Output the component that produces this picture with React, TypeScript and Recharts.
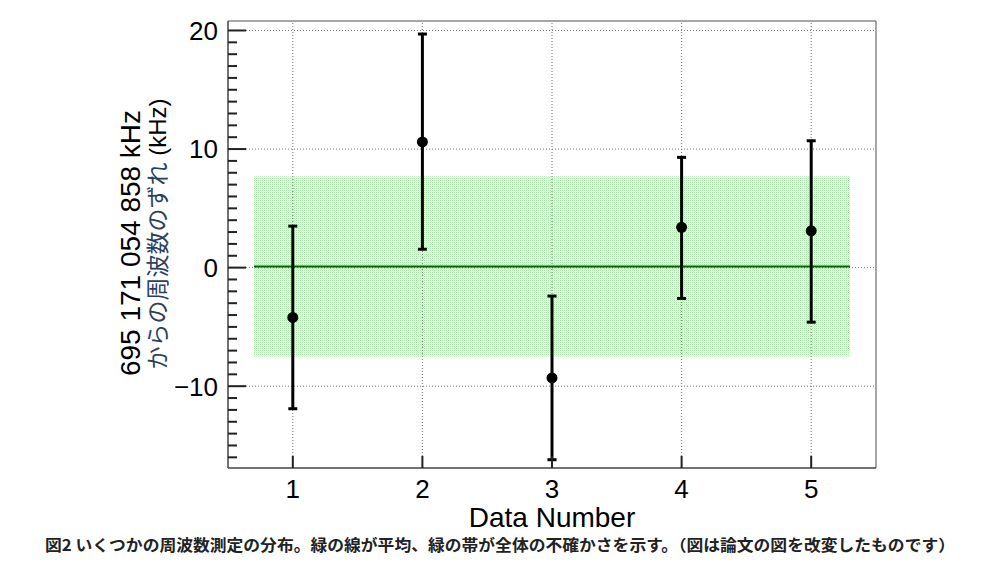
import React from "react";
import {
  ComposedChart,
  Scatter,
  ErrorBar,
  XAxis,
  YAxis,
  ReferenceArea,
  ReferenceLine,
} from "recharts";

const dataNumbers = [1, 2, 3, 4, 5];
const deviations = [-4.2, 10.6, -9.3, 3.4, 3.1];
const upperBounds = [3.5, 19.7, -2.4, 9.3, 10.7];
const lowerBounds = [-11.9, 1.55, -16.2, -2.6, -4.6];

const meanValue = 0.1;
const bandRange = [-7.5, 7.7];
const bandExtent = [0.7, 5.3];

const xTicks = [1, 2, 3, 4, 5];
const yMajorTicks = [-10, 0, 10, 20];
const yMinorTicks = Array.from({ length: 37 }, (_, i) => i - 16);

const X_DOMAIN = [0.5, 5.5];
const Y_DOMAIN = [-16.9, 20.8];

const FONT = "'Liberation Sans', Arial, Helvetica, sans-serif";
const CJK = "'Noto Sans CJK JP', 'Noto Sans', sans-serif";

const points = dataNumbers.map((n, i) => ({
  x: n,
  y: deviations[i],
  err: [deviations[i] - lowerBounds[i], upperBounds[i] - deviations[i]],
}));

// tick marks, placed through the axis scales like any other point
const yTickMarks = yMinorTicks.map((v) => ({ x: X_DOMAIN[0], y: v, major: v % 10 === 0 }));
const xTickMarks = xTicks.map((v) => ({ x: v, y: Y_DOMAIN[0] }));

const fmt = (v: number) => (v < 0 ? `\u2212${-v}` : `${v}`);

function YTick(props: any) {
  return (
    <text x={props.x} y={props.y} dy="0.36em" textAnchor="end" fontSize={26} fontFamily={FONT} fill="#000">
      {fmt(Number(props.payload.value))}
    </text>
  );
}

function XTick(props: any) {
  return (
    <text x={props.x} y={Number(props.y) + 28} textAnchor="middle" fontSize={26} fontFamily={FONT} fill="#000">
      {props.payload.value}
    </text>
  );
}

function YTitle() {
  return (
    <g>
      <text
        transform="translate(140, 243) rotate(-90)"
        textAnchor="middle"
        fontSize={28}
        fontFamily={FONT}
        fill="#000"
      >
        695 171 054 858 kHz
      </text>
      <text
        transform="translate(166, 234) rotate(-90)"
        textAnchor="middle"
        fontSize={24}
        fontFamily={FONT}
        fill="#000"
      >
        <tspan fontFamily={CJK} fontSize={23} fill="#2a4060">
          からの周波数のずれ
        </tspan>
        <tspan> (kHz)</tspan>
      </text>
    </g>
  );
}

function XTitle() {
  return (
    <g>
      <text x={552} y={527} textAnchor="middle" fontSize={28} fontFamily={FONT} fill="#000">
        Data Number
      </text>
      <text
        x={500}
        y={551}
        textAnchor="middle"
        fontSize={16}
        fontWeight={700}
        fontFamily={CJK}
        fill="#222"
        textLength={910}
        lengthAdjust="spacingAndGlyphs"
      >
        図2 いくつかの周波数測定の分布。緑の線が平均、緑の帯が全体の不確かさを示す。（図は論文の図を改変したものです）
      </text>
    </g>
  );
}

function DottedBand(p: any) {
  return (
    <g>
      <defs>
        <pattern id="greenDots" width={2} height={2} patternUnits="userSpaceOnUse">
          <rect width={2} height={2} fill="#f3fdf3" />
          <rect x={0} y={0} width={1} height={1} fill="#ace6ac" />
          <rect x={1} y={1} width={1} height={1} fill="#d6f5d6" />
        </pattern>
      </defs>
      <rect x={p.x} y={p.y} width={p.width} height={p.height} fill="url(#greenDots)" />
    </g>
  );
}

export default function App() {
  return (
    <div style={{ width: 998, height: 570, background: "#fff" }}>
      <style>{`body{margin:0}`}</style>
      <ComposedChart width={998} height={570} margin={{ top: 21, right: 122, bottom: 52, left: 168 }}>
        <XAxis
          type="number"
          dataKey="x"
          domain={X_DOMAIN}
          ticks={xTicks}
          allowDataOverflow
          interval={0}
          height={50}
          tickSize={0}
          tickMargin={2}
          tickLine={false}
          axisLine={{ stroke: "#444", strokeWidth: 1.5 }}
          tick={(p: any) => <XTick {...p} />}
          label={{ content: <XTitle /> }}
        />
        <YAxis
          type="number"
          dataKey="y"
          domain={Y_DOMAIN}
          ticks={yMajorTicks}
          allowDataOverflow
          interval={0}
          width={60}
          tickSize={0}
          tickMargin={10}
          tickLine={false}
          axisLine={{ stroke: "#444", strokeWidth: 1.5 }}
          tick={(p: any) => <YTick {...p} />}
          label={{ content: <YTitle /> }}
        />
        <ReferenceArea
          x1={bandExtent[0]}
          x2={bandExtent[1]}
          y1={bandRange[0]}
          y2={bandRange[1]}
          shape={(p: any) => <DottedBand {...p} />}
        />
        {xTicks.map((v) => (
          <ReferenceLine key={`vx${v}`} x={v} stroke="#777" strokeDasharray="1 2" strokeWidth={1} />
        ))}
        {yMajorTicks.map((v) => (
          <ReferenceLine key={`hy${v}`} y={v} stroke="#777" strokeDasharray="1 2" strokeWidth={1} />
        ))}
        <ReferenceLine y={Y_DOMAIN[1]} stroke="#888" strokeWidth={1.5} />
        <ReferenceLine x={X_DOMAIN[1]} stroke="#888" strokeWidth={1.5} />
        <ReferenceLine
          segment={[
            { x: bandExtent[0], y: meanValue },
            { x: bandExtent[1], y: meanValue },
          ]}
          stroke="#006400"
          strokeWidth={2}
        />
        <Scatter
          data={yTickMarks}
          isAnimationActive={false}
          shape={(p: any) => (
            <rect x={p.cx} y={p.cy - 1} width={p.payload.major ? 18 : 9} height={2} fill="#222" />
          )}
        />
        <Scatter
          data={xTickMarks}
          isAnimationActive={false}
          shape={(p: any) => <rect x={p.cx - 1} y={p.cy - 12} width={2} height={12} fill="#222" />}
        />
        <Scatter data={points} fill="#000" isAnimationActive={false} shape={(p: any) => <circle cx={p.cx} cy={p.cy} r={5.5} fill="#000" />}>
          <ErrorBar dataKey="err" direction="y" width={4.5} stroke="#000" strokeWidth={3} isAnimationActive={false} />
        </Scatter>
      </ComposedChart>
    </div>
  );
}
